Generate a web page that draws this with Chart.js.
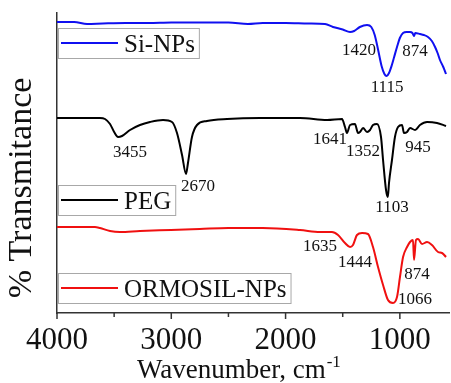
<!DOCTYPE html>
<html>
<head>
<meta charset="utf-8">
<script src="https://cdn.jsdelivr.net/npm/chart.js@4.4.0/dist/chart.umd.min.js"></script>
<style>
  html, body { margin: 0; padding: 0; background: #fff; }
</style>
</head>
<body>
<canvas id="ftir" width="451" height="383"></canvas>
<script>
// FTIR spectra, offset transmittance (arbitrary units)
const siWave = [4000,3850,3737,3600,3400,3200,3000,2800,2500,2329,2200,2000,1800,1655,1585,1500,1436,1400,1350,1287,1250,1220,1190,1160,1135,1115,1095,1070,1050,1025,1000,972,940,911,890,876,865,824,790,754,720,692,670,649,620,596];
const siT    = [291,291,289,289.5,290,290,290.5,290.5,290.5,289,290,290,289.5,289,286,283.5,281,282,286,288,286,278,263,247,239,237,240,248,256,266,275,280,281,281,280,277,280,279,278,276,272,266,260,253,246,239];

const pegWave = [4000,3800,3624,3580,3536,3500,3466,3431,3361,3274,3186,3072,2994,2950,2906,2871,2854,2819,2775,2688,2512,2224,2000,1874,1637,1506,1480,1463,1436,1393,1366,1349,1322,1287,1261,1235,1200,1165,1147,1121,1105,1095,1069,1043,1016,981,964,937,911,867,824,762,675,596];
const pegT    = [195,195,195,194,189,181,176,177,183,188,191,193,191,180,158,139,150,176,188,192,194,195,195,195,193,194,186,180,188,189,180,181,185,181,183,188,189,176,153,123,116,130,153,176,186,188,180,181,185,183,188,191,190,187];

const ormWave = [4000,3800,3668,3624,3536,3449,3274,3003,2750,2500,2200,1874,1699,1594,1541,1480,1436,1410,1375,1331,1279,1235,1191,1147,1104,1060,1025,999,972,937,911,885,876,859,841,806,762,719,666,631,596];
const ormT    = [86,86,86,85,82,81,82,83,84,85,85,83,81,81,78,70,66,68,78,80,79,66,46,28,13,10,16,36,56,66,71,73,53,73,74,69,71,68,61,60,56];

const seriesNames = ['Si-NPs', 'PEG', 'ORMOSIL-NPs'];
const majorTicks = [4000, 3000, 2000, 1000];
const minorTicks = [3500, 2500, 1500];

// peak annotations: text and anchor in data coordinates
const peakNotes = [
  { text: '1420', w: 1357, t: 262 }, { text: '874', w: 868, t: 261 }, { text: '1115', w: 1112, t: 225 },
  { text: '3455', w: 3361, t: 160 }, { text: '2670', w: 2766, t: 126 }, { text: '1641', w: 1611, t: 173 },
  { text: '1352', w: 1322, t: 161 }, { text: '945', w: 841, t: 165 }, { text: '1103', w: 1069, t: 105 },
  { text: '1635', w: 1699, t: 66 }, { text: '1444', w: 1392, t: 50 }, { text: '874', w: 850, t: 38 },
  { text: '1066', w: 868, t: 13 }
];

const colors = ['#1010f0', '#000000', '#f01010'];
const legendTops = [285, 128, 40];

function pts(w, t){ return w.map((v, i) => ({ x: v, y: t[i] })); }

const decor = {
  id: 'decor',
  afterDraw(chart){
    const { ctx, chartArea: a, scales: { x, y } } = chart;
    ctx.save();
    // x ticks, major longer than minor
    ctx.strokeStyle = '#333'; ctx.lineWidth = 1.5;
    majorTicks.concat(minorTicks).forEach(v => {
      const px = x.getPixelForValue(v);
      const len = majorTicks.includes(v) ? 6 : 4;
      ctx.beginPath(); ctx.moveTo(px, a.bottom); ctx.lineTo(px, a.bottom + len); ctx.stroke();
    });
    // peak labels
    ctx.fillStyle = '#111';
    ctx.font = '17px "Liberation Serif"';
    ctx.textAlign = 'center'; ctx.textBaseline = 'middle';
    peakNotes.forEach(n => ctx.fillText(n.text, x.getPixelForValue(n.w), y.getPixelForValue(n.t)));
    // legend boxes
    ctx.font = '25px "Liberation Serif"';
    ctx.textAlign = 'left'; ctx.textBaseline = 'alphabetic';
    seriesNames.forEach((name, i) => {
      const top = Math.round(y.getPixelForValue(legendTops[i]));
      const left = Math.round(a.left) + 1;
      const w = 66 + ctx.measureText(name).width + 4, h = 30;
      ctx.strokeStyle = '#a8a8a8'; ctx.lineWidth = 1;
      ctx.strokeRect(left + 0.5, top + 0.5, w, h);
      ctx.strokeStyle = colors[i]; ctx.lineWidth = 2;
      ctx.beginPath(); ctx.moveTo(left + 3, top + 15); ctx.lineTo(left + 60, top + 15); ctx.stroke();
      ctx.fillStyle = '#111';
      ctx.fillText(name, left + 66, top + 24);
    });
    // axis titles
    ctx.fillStyle = '#111';
    ctx.save();
    ctx.translate(a.left - 35, a.top + 175);
    ctx.rotate(-Math.PI / 2);
    ctx.font = '34px "Liberation Serif"';
    ctx.textAlign = 'center'; ctx.textBaseline = 'middle';
    ctx.fillText('% Transmitance', 0, 0);
    ctx.restore();
    ctx.font = '27px "Liberation Serif"';
    ctx.textAlign = 'left'; ctx.textBaseline = 'alphabetic';
    const main = 'Wavenumber, cm';
    const x0 = 137, base = a.bottom + 65;
    ctx.fillText(main, x0, base);
    const mw = ctx.measureText(main).width;
    ctx.font = '17px "Liberation Serif"';
    ctx.fillText('-1', x0 + mw + 1, base - 11);
    ctx.restore();
  }
};

const ctx = document.getElementById('ftir').getContext('2d');
new Chart(ctx, {
  type: 'line',
  data: {
    datasets: [
      { label: seriesNames[0], data: pts(siWave, siT), borderColor: colors[0] },
      { label: seriesNames[1], data: pts(pegWave, pegT), borderColor: colors[1] },
      { label: seriesNames[2], data: pts(ormWave, ormT), borderColor: colors[2] }
    ]
  },
  options: {
    responsive: false,
    animation: false,
    layout: { padding: { left: 57, right: 2, top: 13, bottom: 14 } },
    elements: {
      line: { borderWidth: 2, cubicInterpolationMode: 'monotone', fill: false },
      point: { radius: 0 }
    },
    plugins: { legend: { display: false }, tooltip: { enabled: false } },
    scales: {
      x: {
        type: 'linear', reverse: true, min: 570, max: 4000,
        afterBuildTicks: s => { s.ticks = majorTicks.map(v => ({ value: v })); },
        afterFit: s => { s.height = 56; },
        grid: { drawOnChartArea: false, drawTicks: false },
        border: { display: true, color: '#333', width: 1.5 },
        ticks: {
          autoSkip: false, maxRotation: 0, padding: 9,
          color: '#111', font: { family: 'Liberation Serif', size: 31 },
          callback: v => String(v)
        }
      },
      y: {
        min: 0, max: 300,
        grid: { drawOnChartArea: false, drawTicks: false },
        border: { display: true, color: '#333', width: 1.5 },
        ticks: { display: false }
      }
    }
  },
  plugins: [decor]
});
</script>
</body>
</html>
